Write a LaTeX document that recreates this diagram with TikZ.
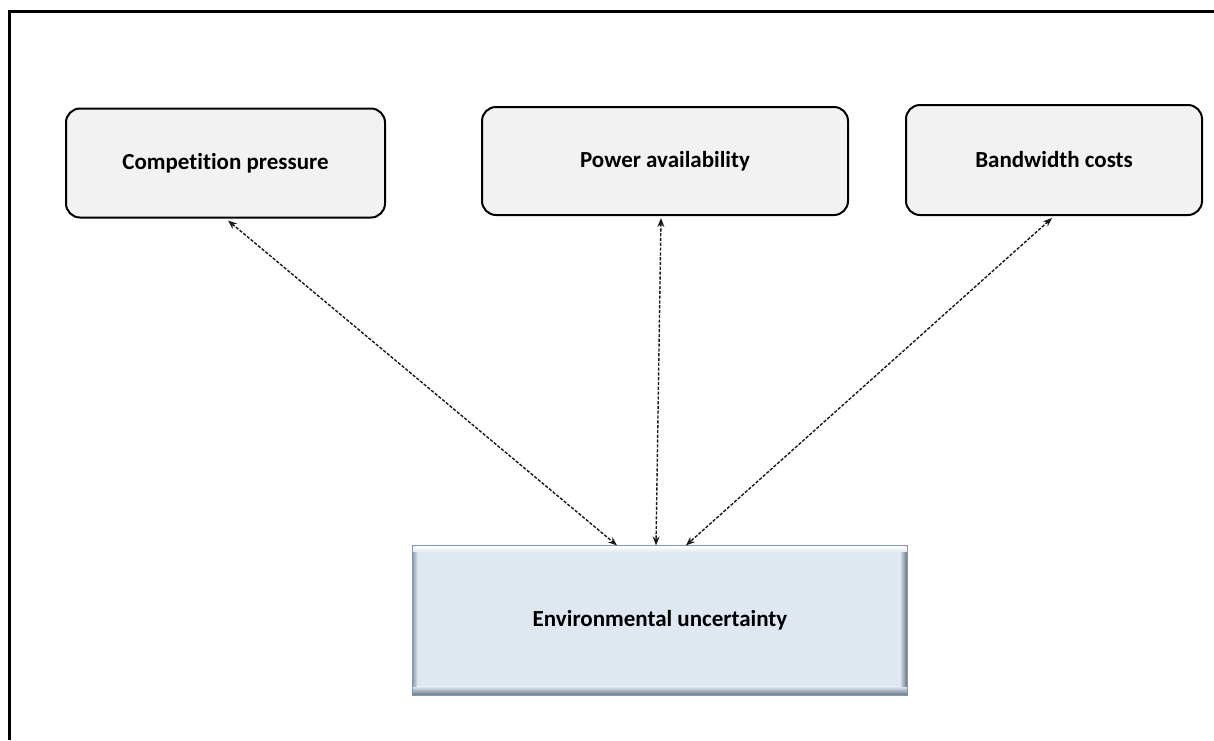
\documentclass[tikz,border=0pt]{standalone}
\usepackage{fontspec}
\setmainfont[Ligatures=NoCommon]{Carlito}
\usetikzlibrary{arrows.meta}
\definecolor{boxfill}{HTML}{F2F2F2}
\definecolor{eufill}{HTML}{DFE7F1}
\definecolor{euedge}{HTML}{7E99BA}
\definecolor{eushade}{HTML}{6F7A8A}
\begin{document}
\begin{tikzpicture}[x=1pt,y=-1pt,
  factor/.style={draw=black, line width=2pt, fill=boxfill, rounded corners=14pt,
    inner sep=0pt, font=\fontsize{23}{27}\selectfont\bfseries},
  outcome/.style={draw=euedge, line width=1.2pt, fill=eufill, inner sep=0pt},
  outtext/.style={font=\fontsize{23}{27}\selectfont\bfseries},
  link/.style={black!90, line width=1.4pt, dash pattern=on 3.2pt off 1.6pt,
    {Stealth[length=9pt,width=7pt]}-{Stealth[length=9pt,width=7pt]}}]
\useasboundingbox (0,0) rectangle (1214,740);

% outer frame (open to the right and bottom)
\draw[line width=3pt] (1214,11) -- (9,11) -- (9,740);

% factor boxes
\node[factor, minimum width=319pt, minimum height=109pt] (cp) at (225.5,163) {Competition pressure};
\node[factor, minimum width=366pt, minimum height=108pt] (pa) at (665,161) {Power availability};
\node[factor, minimum width=296pt, minimum height=110pt] (bc) at (1054,160) {Bandwidth costs};

% bevelled outcome box
\node[outcome, minimum width=494pt, minimum height=149pt] (eu) at (660,620.5) {};
\shade[top color=white, bottom color=eufill]
  ([shift={(1,1)}]eu.north west) rectangle ([shift={(-1,7)}]eu.north east);
\shade[top color=eufill, bottom color=eushade]
  ([shift={(1,-9)}]eu.south west) rectangle ([shift={(-1,-1)}]eu.south east);
\shade[left color=eufill, right color=eushade]
  ([shift={(-8,7)}]eu.north east) rectangle ([shift={(-1,-9)}]eu.south east);
\shade[left color=eushade!60!eufill, right color=eufill]
  ([shift={(1,7)}]eu.north west) rectangle ([shift={(5,-9)}]eu.south west);
\node[outtext] (eutext) at (eu.center) {Environmental uncertainty};

% dashed two-way links
\draw[link] ([xshift=2.5pt,yshift=-2pt]cp.south) -- ([xshift=-43pt]eu.north);
\draw[link] ([xshift=-4pt,yshift=-2pt]pa.south) -- ([xshift=-4pt]eu.north);
\draw[link] ([xshift=-2pt,yshift=-2pt]bc.south) -- ([xshift=26pt]eu.north);
\end{tikzpicture}
\end{document}
